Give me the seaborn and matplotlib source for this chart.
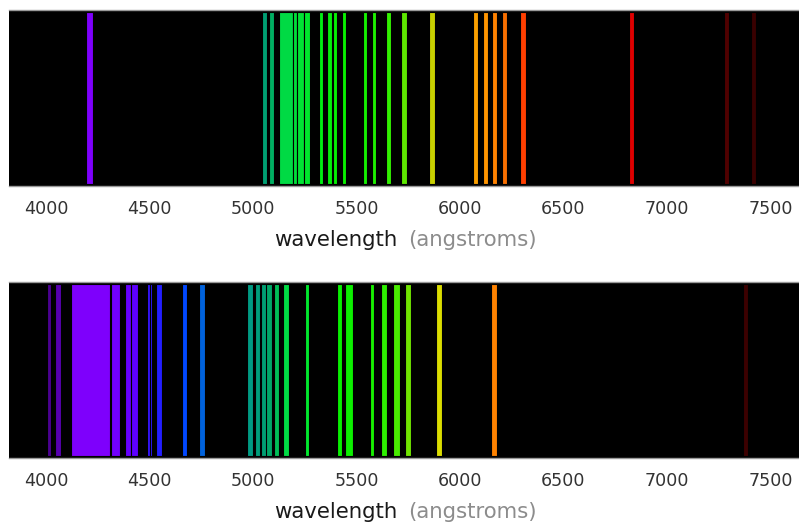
import numpy as np
import matplotlib
matplotlib.use("Agg")
import matplotlib.pyplot as plt
from matplotlib.colors import LinearSegmentedColormap, Normalize
import seaborn as sns

# ---- data: emission line centres (angstroms) and widths (angstroms) ----
top_wavelengths = [4210, 5056, 5089, 5160, 5201, 5228, 5261, 5328, 5370, 5396, 5439,
                   5541, 5585, 5654, 5730, 5864, 6075, 6123, 6166, 6215, 6305, 6829,
                   7288, 7418]
top_widths = [30, 24, 23, 65, 19, 35, 29, 21, 22, 20, 21,
              21, 21, 23, 28, 27, 24, 24, 24, 24, 28, 24,
              23, 23]

bottom_wavelengths = [4014, 4058, 4214, 4335, 4396, 4429, 4494, 4508, 4546, 4669, 4754,
                      4985, 5021, 5053, 5077, 5114, 5160, 5261, 5418, 5464, 5575, 5631,
                      5694, 5749, 5898, 6164, 7381]
bottom_widths = [21, 28, 186, 47, 30, 33, 14, 12, 25, 28, 30,
                 32, 25, 28, 25, 26, 32, 21, 21, 40, 21, 30,
                 33, 30, 30, 31, 25]

tick_values = [4000, 4500, 5000, 5500, 6000, 6500, 7000, 7500]
xlabel_main = "wavelength"
xlabel_unit = "(angstroms)"

# ---- spectral colour scale (wavelength -> colour) ----
XMIN, XMAX = 3821, 7638
anchors = [
    (3800, "#300060"), (4000, "#4b0090"), (4059, "#5a00b8"), (4147, "#7800f0"),
    (4216, "#8000ff"), (4343, "#7000ff"), (4442, "#5800ff"), (4500, "#3018ff"),
    (4549, "#2020ff"), (4667, "#0048ff"), (4755, "#0062dc"), (4883, "#008a9a"),
    (4981, "#009a84"), (5060, "#00a070"), (5099, "#00b060"), (5128, "#00d848"),
    (5177, "#00dc40"), (5275, "#00e82a"), (5325, "#00ee14"), (5423, "#08f000"),
    (5570, "#18f000"), (5668, "#38f000"), (5756, "#70e400"), (5864, "#c8d000"),
    (5903, "#e0e000"), (6060, "#f8a400"), (6129, "#ff9400"), (6168, "#ff8400"),
    (6217, "#f87000"), (6306, "#ff4000"), (6551, "#f01800"), (6826, "#e00000"),
    (6943, "#c00000"), (7140, "#7a0000"), (7287, "#520000"), (7385, "#3c0000"),
    (7728, "#200000"),
]
cnorm = Normalize(anchors[0][0], anchors[-1][0])
cmap = LinearSegmentedColormap.from_list(
    "spectrum", [(cnorm(w), c) for w, c in anchors])

sns.set_style("white")
plt.rcParams["font.family"] = ["DejaVu Sans"]

fig = plt.figure(figsize=(7.99, 5.23), dpi=100)
left = 9 / 799
width = 790 / 799
ax_top = fig.add_axes([left, 1 - 186 / 523, width, 176 / 523])
ax_bot = fig.add_axes([left, 1 - 458 / 523, width, 176 / 523])

for ax, wl, wd in [(ax_top, top_wavelengths, top_widths),
                   (ax_bot, bottom_wavelengths, bottom_widths)]:
    ax.set_facecolor("black")
    colors = [cmap(cnorm(w)) for w in wl]
    ax.bar(wl, [1] * len(wl), width=wd, bottom=0, color=colors,
           edgecolor="black", linewidth=0.8, align="center")
    ax.set_xlim(XMIN, XMAX)
    ax.set_ylim(-0.012, 1.012)
    ax.set_yticks([])
    ax.set_xticks(tick_values)
    ax.set_xticklabels([str(t) for t in tick_values],
                       fontfamily="DejaVu Sans", fontsize=12.6, color="#333333")
    ax.tick_params(axis="x", length=0, pad=9.8)
    for s in ["left", "right"]:
        ax.spines[s].set_visible(False)
    for s in ["top", "bottom"]:
        ax.spines[s].set_color("#9a9a9a")
        ax.spines[s].set_linewidth(1.0)
    ax.text(0.4911, -0.307, xlabel_main, transform=ax.transAxes, ha="right",
            va="center", fontsize=15.3, color="#1a1a1a")
    ax.text(0.5051, -0.307, xlabel_unit, transform=ax.transAxes, ha="left",
            va="center", fontsize=15.3, color="#8c8c8c")

fig.savefig("out.png", dpi=100, facecolor="white")
